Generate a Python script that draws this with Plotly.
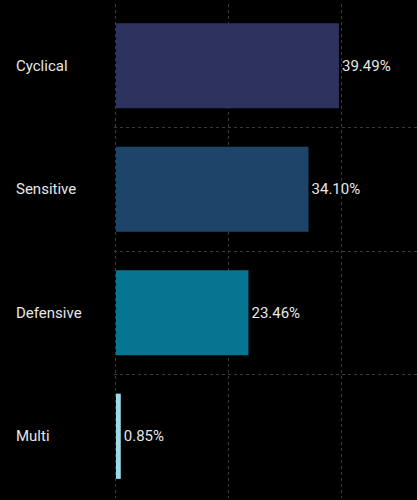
import plotly.graph_objects as go

categories = ["Cyclical", "Sensitive", "Defensive", "Multi"]
values = [39.49, 34.10, 23.46, 0.85]
colors = ["#2d335e", "#1d4569", "#067591", "#9edbe8"]
labels = [f"{v:.2f}%" for v in values]

FONT = "Roboto"

fig = go.Figure(go.Bar(
    y=categories,
    x=values,
    orientation="h",
    marker=dict(color=colors, line=dict(width=0)),
    text=labels,
    textposition="outside",
    textfont=dict(color="#e6e6e6", size=15, family=FONT),
    cliponaxis=False,
    hoverinfo="skip",
))

for c in categories:
    fig.add_annotation(
        x=0, xref="paper", y=c, yref="y",
        xshift=-100, xanchor="left",
        text=c, showarrow=False,
        font=dict(color="#e6e6e6", size=15, family=FONT),
    )

fig.update_layout(
    width=417, height=500,
    margin=dict(l=114, r=0, t=4, b=2),
    paper_bgcolor="#000000",
    plot_bgcolor="#000000",
    bargap=0.31,
    showlegend=False,
    font=dict(family=FONT, color="#e6e6e6"),
)
fig.update_xaxes(
    range=[-0.35, max(values) * 1.35],
    dtick=20, tick0=0, showticklabels=False, zeroline=False,
    showgrid=True, gridcolor="#3a3a3a", griddash="dot", gridwidth=1,
    showline=False,
)
fig.update_yaxes(
    autorange="reversed", showticklabels=False,
    tickson="boundaries", ticks="",
    showgrid=True, gridcolor="#3a3a3a", griddash="dot", gridwidth=1,
    zeroline=False, showline=False,
)

fig.write_html(
    "out.html",
    config={"displayModeBar": False},
    post_script="document.body.style.margin='0';document.body.style.background='#000';",
)
